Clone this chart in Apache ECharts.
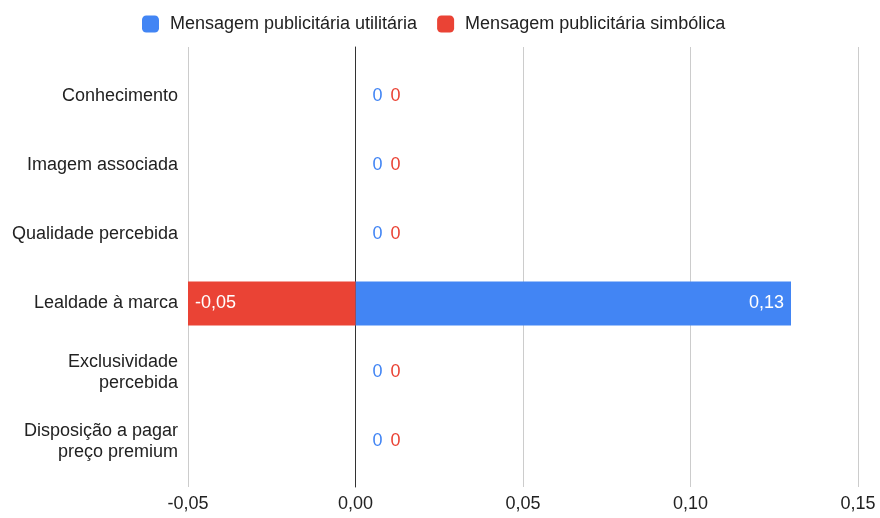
<!DOCTYPE html>
<html>
<head>
<meta charset="utf-8">
<title>Efeito das mensagens publicitárias</title>
<script src="https://cdn.jsdelivr.net/npm/echarts@6/dist/echarts.min.js"></script>
<style>
  html, body { margin: 0; padding: 0; background: #fff; }
  #chart { width: 880px; height: 518px; }
</style>
</head>
<body>
<div id="chart"></div>
<script>
// Horizontal stacked bars, Google-Sheets look. Two grids: the outer one
// only carries the gridlines / zero line / tick labels (they run a bit
// past the category band), the inner one holds the bars.

const CATEGORIES = [
  "Conhecimento",
  "Imagem associada",
  "Qualidade percebida",
  "Lealdade à marca",
  "Exclusividade\npercebida",
  "Disposição a pagar\npreço premium",
];
const UTILITARIA = [0, 0, 0, 0.13, 0, 0];
const SIMBOLICA = [0, 0, 0, -0.05, 0, 0];
const SERIES_NAMES = [
  "Mensagem publicitária utilitária",
  "Mensagem publicitária simbólica",
];

const X_MIN = -0.05;
const X_MAX = 0.15;
const X_STEP = 0.05;

const BLUE = "#4285f4";
const RED = "#ea4335";
const FONT = "'Liberation Sans', Arial, sans-serif";
const FS = 18;

function fmtNum(v) {
  if (v === 0) return "0";
  return v.toFixed(2).replace(".", ",");
}

// zero values sit just right of the axis, side by side; real bars get
// a white label inside the bar end
function barData(values, color, zeroDistance) {
  return values.map((v) => {
    if (v === 0) {
      return {
        value: v,
        label: { position: "right", distance: zeroDistance, color },
      };
    }
    return {
      value: v,
      label: {
        position: v < 0 ? "insideLeft" : "insideRight",
        distance: 7,
        color: "#fff",
      },
    };
  });
}

const chart = echarts.init(document.getElementById("chart"), null, {
  renderer: "canvas",
});

const axisRange = { min: X_MIN, max: X_MAX, interval: X_STEP };

chart.setOption({
  backgroundColor: "#fff",
  textStyle: { fontFamily: FONT },
  animation: false,
  legend: {
    top: 10,
    left: 137,
    icon: "roundRect",
    itemWidth: 17,
    itemHeight: 17,
    itemGap: 20,
    textStyle: {
      fontSize: FS,
      color: "#222",
      fontFamily: FONT,
      padding: [0, 0, 0, 6],
    },
    data: SERIES_NAMES,
  },
  grid: [
    { left: 188, right: 22, top: 47, bottom: 31 },
    { left: 188, right: 22, top: 62, height: 414 },
  ],
  xAxis: [
    {
      gridIndex: 0,
      type: "value",
      ...axisRange,
      axisLine: { show: false },
      axisTick: { show: false },
      splitLine: { show: true, lineStyle: { color: "#cccccc", width: 1 } },
      axisLabel: {
        margin: 8,
        fontSize: FS,
        color: "#222",
        fontFamily: FONT,
        formatter: (v) => v.toFixed(2).replace(".", ","),
      },
    },
    {
      gridIndex: 1,
      type: "value",
      ...axisRange,
      show: false,
      splitLine: { show: false },
    },
  ],
  yAxis: [
    {
      gridIndex: 0,
      type: "value",
      min: 0,
      max: 1,
      axisLine: { show: true, onZero: true, lineStyle: { color: "#333", width: 1 } },
      axisTick: { show: false },
      axisLabel: { show: false },
      splitLine: { show: false },
    },
    {
      gridIndex: 1,
      type: "category",
      inverse: true,
      data: CATEGORIES,
      axisLine: { show: false },
      axisTick: { show: false },
      splitLine: { show: false },
      axisLabel: {
        margin: 10,
        fontSize: FS,
        lineHeight: 21,
        color: "#222",
        fontFamily: FONT,
        align: "right",
      },
    },
  ],
  series: [
    {
      name: SERIES_NAMES[0],
      type: "bar",
      stack: "total",
      xAxisIndex: 1,
      yAxisIndex: 1,
      barWidth: 44,
      itemStyle: { color: BLUE },
      label: { show: true, fontSize: FS, fontFamily: FONT, formatter: (p) => fmtNum(p.value) },
      data: barData(UTILITARIA, BLUE, 17),
    },
    {
      name: SERIES_NAMES[1],
      type: "bar",
      stack: "total",
      xAxisIndex: 1,
      yAxisIndex: 1,
      barWidth: 44,
      itemStyle: { color: RED },
      label: { show: true, fontSize: FS, fontFamily: FONT, formatter: (p) => fmtNum(p.value) },
      data: barData(SIMBOLICA, RED, 35),
    },
  ],
});
</script>
</body>
</html>
